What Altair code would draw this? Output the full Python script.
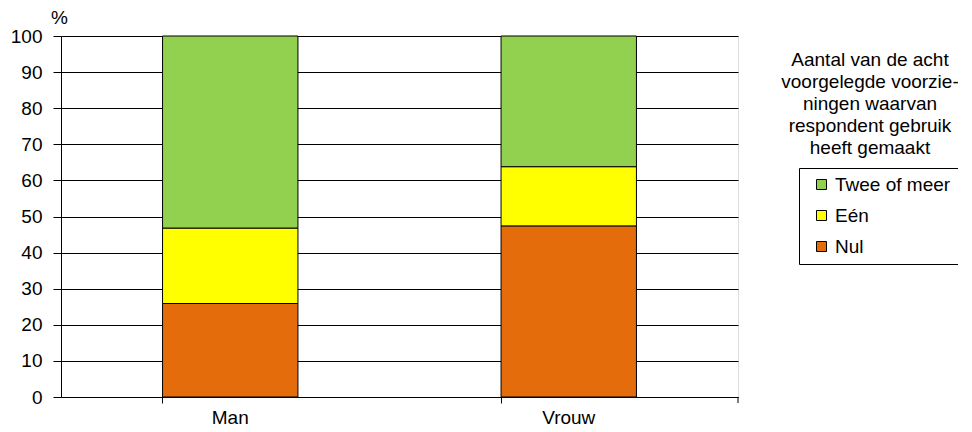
import altair as alt
import pandas as pd

categories = ["Man", "Vrouw"]
series = ["Twee of meer", "Eén", "Nul"]
colors = ["#92D050", "#FFFF00", "#E46C0A"]
nul = [25.9, 47.4]
een = [20.9, 16.4]
twee = [53.2, 36.2]
y_ticks = [0, 10, 20, 30, 40, 50, 60, 70, 80, 90, 100]
legend_title = "Aantal van de acht\nvoorgelegde voorzie-\nningen waarvan\nrespondent gebruik\nheeft gemaakt"

rows = []
for i, c in enumerate(categories):
    rows.append({"cat": c, "serie": "Nul", "val": nul[i], "rank": 0})
    rows.append({"cat": c, "serie": "Eén", "val": een[i], "rank": 1})
    rows.append({"cat": c, "serie": "Twee of meer", "val": twee[i], "rank": 2})
df = pd.DataFrame(rows)

FONT = "Arial, Liberation Sans, sans-serif"
FS = 19
W, H = 677, 361

bars = alt.Chart(df).mark_bar(stroke="black", strokeWidth=1).encode(
    x=alt.X("cat:N", sort=categories, title=None,
            scale=alt.Scale(paddingInner=0.6, paddingOuter=0.3),
            axis=alt.Axis(labelAngle=0, bandPosition=0, tickSize=6, labelPadding=5,
                          labelFontSize=FS, labelFont=FONT, labelColor="black",
                          domainColor="black", tickColor="black", grid=False)),
    y=alt.Y("val:Q", stack="zero", title="%",
            scale=alt.Scale(domain=[0, 100], nice=False),
            axis=alt.Axis(values=y_ticks, tickSize=8, labelPadding=11,
                          labelFontSize=FS, labelFont=FONT, labelColor="black",
                          domainColor="black", tickColor="black",
                          gridColor="black", gridWidth=1,
                          titleAngle=0, titleX=-2, titleY=-19, titleAlign="center",
                          titleBaseline="middle", titleFontSize=FS, titleFont=FONT,
                          titleFontWeight="normal", titleColor="black")),
    color=alt.Color("serie:N", scale=alt.Scale(domain=series, range=colors),
                    legend=alt.Legend(title=None, orient="none", legendX=738, legendY=132,
                                      strokeColor="black", padding=7, rowPadding=11,
                                      symbolType="square", symbolSize=100, symbolOffset=6,
                                      symbolStrokeColor="black", symbolStrokeWidth=1,
                                      labelFontSize=FS, labelFont=FONT, labelColor="black",
                                      labelOffset=4, fillColor="white")),
    order=alt.Order("rank:Q", sort="ascending"),
)

end_tick = alt.Chart(pd.DataFrame({"a": [0]})).mark_rule(color="black").encode(
    x=alt.value(W), y=alt.value(H), y2=alt.value(H + 6)
)

title_txt = alt.Chart(pd.DataFrame({"t": [legend_title]})).mark_text(
    lineBreak="\n", lineHeight=22, fontSize=FS, font=FONT, color="black",
    align="center", baseline="middle"
).encode(x=alt.value(809), y=alt.value(24), text="t:N")

chart = alt.layer(bars, end_tick, title_txt).properties(
    width=W, height=H,
    autosize=alt.AutoSizeParams(type="none"),
    padding={"left": 53, "top": 28, "right": 220, "bottom": 40},
).configure_view(stroke=None).configure(background="white")

chart.save("out.html", embed_options={"renderer": "svg", "actions": False})
